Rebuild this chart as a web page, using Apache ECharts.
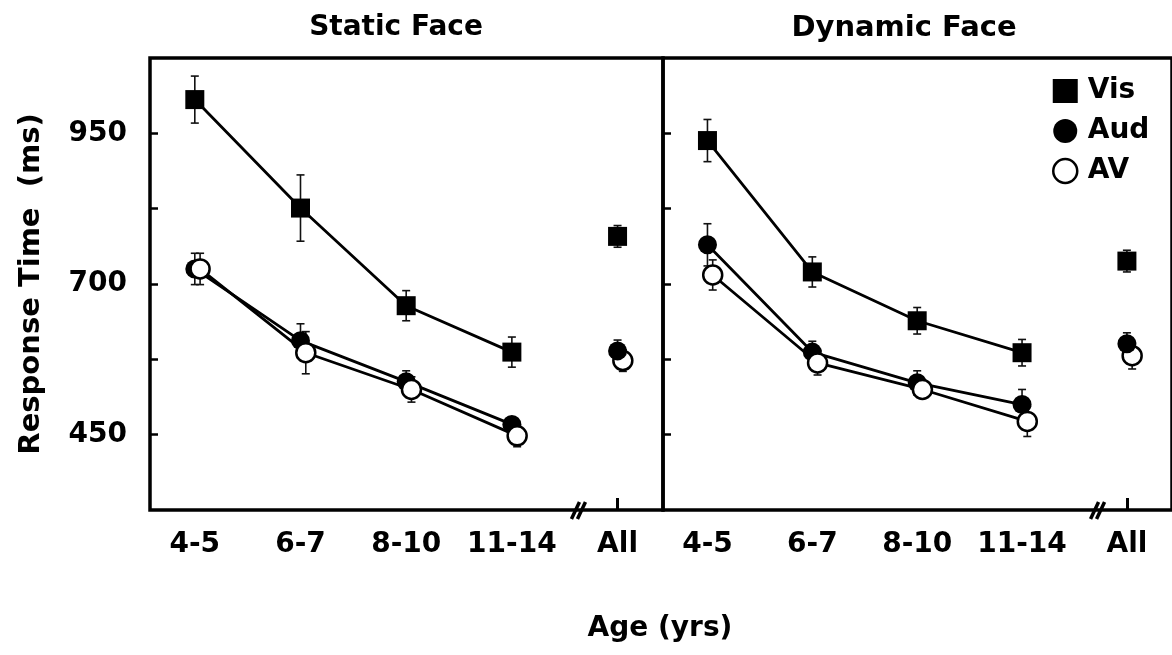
<!DOCTYPE html>
<html>
<head>
<meta charset="utf-8">
<script src="https://cdn.jsdelivr.net/npm/echarts@6/dist/echarts.min.js"></script>
<style>
  html, body { margin: 0; background: #fff; }
  #grafica { width: 1172px; height: 655px; }
</style>
</head>
<body>
<div id="grafica"></div>
<script>
const ageLabels = ["4-5", "6-7", "8-10", "11-14", "All"];
const panelTitles = ["Static Face", "Dynamic Face"];
const yTicks = [450, 575, 700, 825, 950];
const yLabels = [450, 700, 950];

// Static face (ms)
const staticVis = [1006, 826, 664, 587, 779];
const staticVisErr = [39, 55, 25, 25, 18];
const staticAud = [725, 606, 538, 467, 589];
const staticAudErr = [26, 28, 18, 12, 18];
const staticAV = [725, 586, 525, 448, 573];
const staticAVErr = [26, 35, 21, 18, 18];

// Dynamic face (ms)
const dynamicVis = [938, 720, 639, 586, 738];
const dynamicVisErr = [35, 25, 22, 22, 18];
const dynamicAud = [765, 587, 536, 500, 601];
const dynamicAudErr = [35, 18, 20, 25, 18];
const dynamicAV = [715, 569, 525, 472, 581];
const dynamicAVErr = [25, 20, 15, 25, 22];

const FONT = "DejaVu Sans";
const breakAt = [3.63, 3.72]; // donde va el "//" del eje x en cada panel

const conditions = [
  { name: "Vis", symbol: "rect", fill: "#000", border: 0, shift: 0, zAll: 4 },
  { name: "Aud", symbol: "circle", fill: "#000", border: 0, shift: 0, zAll: 6 },
  { name: "AV", symbol: "circle", fill: "#fff", border: 2.5, shift: 0.05, zAll: 5 },
];
const panels = [
  { vals: [staticVis, staticAud, staticAV], errs: [staticVisErr, staticAudErr, staticAVErr] },
  { vals: [dynamicVis, dynamicAud, dynamicAV], errs: [dynamicVisErr, dynamicAudErr, dynamicAVErr] },
];

const renderErrorBar = (params, api) => {
  const x = api.value(0);
  const lo = api.coord([x, api.value(1)]);
  const hi = api.coord([x, api.value(2)]);
  const cap = 4;
  const style = { stroke: "#111", lineWidth: 1.6 };
  return {
    type: "group",
    children: [
      { type: "line", shape: { x1: lo[0], y1: lo[1], x2: hi[0], y2: hi[1] }, style },
      { type: "line", shape: { x1: lo[0] - cap, y1: lo[1], x2: lo[0] + cap, y2: lo[1] }, style },
      { type: "line", shape: { x1: hi[0] - cap, y1: hi[1], x2: hi[0] + cap, y2: hi[1] }, style },
    ],
  };
};

const renderBreak = (params, api) => {
  const p = api.coord([api.value(0), api.value(1)]);
  const style = { stroke: "#000", lineWidth: 3.5 };
  return {
    type: "group",
    children: [
      { type: "line", shape: { x1: p[0] - 7, y1: p[1] + 9, x2: p[0] + 1, y2: p[1] - 8 }, style },
      { type: "line", shape: { x1: p[0] - 1, y1: p[1] + 9, x2: p[0] + 7, y2: p[1] - 8 }, style },
    ],
  };
};

const series = [];
panels.forEach((panel, p) => {
  conditions.forEach((c, k) => {
    const vals = panel.vals[k];
    const errs = panel.errs[k];
    const itemStyle = { color: c.fill, borderColor: "#000", borderWidth: c.border, opacity: 1 };
    series.push({
      type: "custom",
      xAxisIndex: p,
      yAxisIndex: p,
      renderItem: renderErrorBar,
      encode: { x: 0, y: [1, 2] },
      data: vals.map((v, i) => [i + c.shift, v - errs[i], v + errs[i]]),
      z: 2,
      silent: true,
    });
    series.push({
      name: c.name,
      type: "line",
      xAxisIndex: p,
      yAxisIndex: p,
      data: vals.slice(0, 4).map((v, i) => [i + c.shift, v]),
      symbol: c.symbol,
      symbolSize: 19,
      showSymbol: true,
      itemStyle: itemStyle,
      lineStyle: { color: "#000", width: 2.8 },
      z: 3 + k,
      silent: true,
    });
    series.push({
      name: c.name,
      type: "scatter",
      xAxisIndex: p,
      yAxisIndex: p,
      data: [[4 + c.shift, vals[4]]],
      symbol: c.symbol,
      symbolSize: 19,
      itemStyle: itemStyle,
      z: c.zAll,
      silent: true,
    });
  });
  series.push({
    type: "custom",
    xAxisIndex: p,
    yAxisIndex: p,
    renderItem: renderBreak,
    data: [[breakAt[p], 325]],
    z: 10,
    silent: true,
  });
});

const makeX = (p) => ({
  type: "value",
  gridIndex: p,
  min: -0.424,
  max: 4.43,
  axisLine: { show: false, onZero: false },
  splitLine: { show: false },
  axisTick: {
    customValues: [4],
    inside: true,
    length: 12,
    lineStyle: { color: "#000", width: 3 },
  },
  axisLabel: {
    customValues: [0, 1, 2, 3, 4],
    formatter: (v) => ageLabels[Math.round(v)],
    fontSize: 28,
    fontWeight: "bold",
    fontFamily: FONT,
    color: "#000",
    margin: 21,
  },
});

const makeY = (p) => ({
  type: "value",
  gridIndex: p,
  min: 325,
  max: 1075,
  axisLine: { show: false, onZero: false },
  splitLine: { show: false },
  axisTick: {
    customValues: yTicks,
    inside: true,
    length: 8,
    lineStyle: { color: "#000", width: 2.5 },
  },
  axisLabel: {
    show: p === 0,
    customValues: yLabels,
    fontSize: 28,
    fontWeight: "bold",
    fontFamily: FONT,
    color: "#000",
    margin: 23,
  },
  name: p === 0 ? "Response Time  (ms)" : "",
  nameLocation: "middle",
  nameRotate: 90,
  nameGap: 104,
  nameTextStyle: { fontSize: 29, fontWeight: "bold", fontFamily: FONT, color: "#000" },
});

const textEl = (text, x, y, size) => ({
  type: "text",
  x: x,
  y: y,
  style: {
    text: text,
    fontSize: size,
    fontWeight: "bold",
    fontFamily: FONT,
    fill: "#000",
    align: "center",
    verticalAlign: "middle",
  },
});

const option = {
  animation: false,
  backgroundColor: "#fff",
  grid: [
    { left: 150, top: 58, width: 513, height: 452, show: true, borderColor: "#000", borderWidth: 3.5, backgroundColor: "transparent" },
    { left: 663, top: 58, width: 513, height: 452, show: true, borderColor: "#000", borderWidth: 3.5, backgroundColor: "transparent" },
  ],
  xAxis: [makeX(0), makeX(1)],
  yAxis: [makeY(0), makeY(1)],
  legend: {
    orient: "vertical",
    left: 1047,
    top: 72,
    itemWidth: 25,
    itemHeight: 24,
    itemGap: 12,
    selectedMode: false,
    textStyle: { fontSize: 28, fontWeight: "bold", fontFamily: FONT, color: "#000", padding: [0, 0, 0, 5] },
    data: [
      { name: "Vis", icon: "rect", itemStyle: { color: "#000", borderWidth: 0 } },
      { name: "Aud", icon: "circle", itemStyle: { color: "#000", borderWidth: 0 } },
      { name: "AV", icon: "circle", itemStyle: { color: "#fff", borderColor: "#000", borderWidth: 2.5 } },
    ],
  },
  graphic: [
    textEl(panelTitles[0], 396, 28, 28),
    textEl(panelTitles[1], 904, 28, 29),
    textEl("Age (yrs)", 660, 629, 28),
  ],
  series: series,
};

const myChart = echarts.init(document.querySelector("#grafica"));
myChart.setOption(option);
</script>
</body>
</html>
